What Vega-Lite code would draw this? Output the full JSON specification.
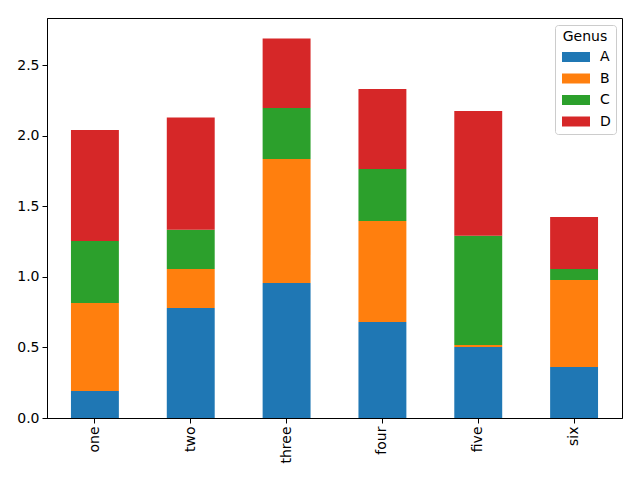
{
  "$schema": "https://vega.github.io/schema/vega-lite/v6.json",
  "width": 575,
  "height": 400,
  "autosize": {"type": "none"},
  "padding": {"left": 47, "top": 18, "right": 18, "bottom": 62},
  "background": "white",
  "config": {
    "font": "DejaVu Sans",
    "view": {"stroke": "black", "strokeWidth": 1},
    "axis": {"domainColor": "black", "tickColor": "black", "labelColor": "black", "labelFontSize": 14, "labelFont": "DejaVu Sans", "tickSize": 5, "grid": false, "domainWidth": 1, "tickWidth": 1}
  },
  "data": {
    "values": [
      {"idx": "one", "Genus": "A", "v": 0.191}, {"idx": "one", "Genus": "B", "v": 0.623}, {"idx": "one", "Genus": "C", "v": 0.44}, {"idx": "one", "Genus": "D", "v": 0.786},
      {"idx": "two", "Genus": "A", "v": 0.779}, {"idx": "two", "Genus": "B", "v": 0.276}, {"idx": "two", "Genus": "C", "v": 0.279}, {"idx": "two", "Genus": "D", "v": 0.794},
      {"idx": "three", "Genus": "A", "v": 0.956}, {"idx": "three", "Genus": "B", "v": 0.878}, {"idx": "three", "Genus": "C", "v": 0.361}, {"idx": "three", "Genus": "D", "v": 0.493},
      {"idx": "four", "Genus": "A", "v": 0.68}, {"idx": "four", "Genus": "B", "v": 0.715}, {"idx": "four", "Genus": "C", "v": 0.368}, {"idx": "four", "Genus": "D", "v": 0.567},
      {"idx": "five", "Genus": "A", "v": 0.503}, {"idx": "five", "Genus": "B", "v": 0.014}, {"idx": "five", "Genus": "C", "v": 0.774}, {"idx": "five", "Genus": "D", "v": 0.883},
      {"idx": "six", "Genus": "A", "v": 0.361}, {"idx": "six", "Genus": "B", "v": 0.616}, {"idx": "six", "Genus": "C", "v": 0.078}, {"idx": "six", "Genus": "D", "v": 0.369}
    ]
  },
  "mark": {"type": "bar"},
  "encoding": {
    "x": {
      "field": "idx", "type": "nominal",
      "sort": ["one", "two", "three", "four", "five", "six"],
      "scale": {"paddingInner": 0.5, "paddingOuter": 0.25},
      "axis": {"title": null, "labelAngle": -90, "labelPadding": 3}
    },
    "y": {
      "field": "v", "type": "quantitative", "aggregate": "sum", "stack": "zero",
      "scale": {"domain": [0, 2.833], "nice": false},
      "axis": {"title": null, "values": [0, 0.5, 1, 1.5, 2, 2.5], "format": ".1f", "labelPadding": 3}
    },
    "color": {
      "field": "Genus", "type": "nominal",
      "scale": {"domain": ["A", "B", "C", "D"], "range": ["#1f77b4", "#ff7f0e", "#2ca02c", "#d62728"]},
      "legend": {
        "orient": "none", "legendX": 508, "legendY": 7,
        "title": "Genus", "titleFontSize": 14, "titleFontWeight": "normal", "titleColor": "black", "titleAnchor": "middle", "titlePadding": 6,
        "labelFontSize": 14, "labelColor": "black",
        "symbolType": "M-2.8,-1H2.8V1H-2.8Z", "symbolSize": 100, "symbolStrokeWidth": 0, "symbolOpacity": 1,
        "symbolOffset": 9, "labelOffset": 17, "rowPadding": 7.5,
        "padding": 5, "strokeColor": "#cccccc", "fillColor": "white", "cornerRadius": 3
      }
    },
    "order": {"field": "Genus", "sort": "ascending"}
  }
}
